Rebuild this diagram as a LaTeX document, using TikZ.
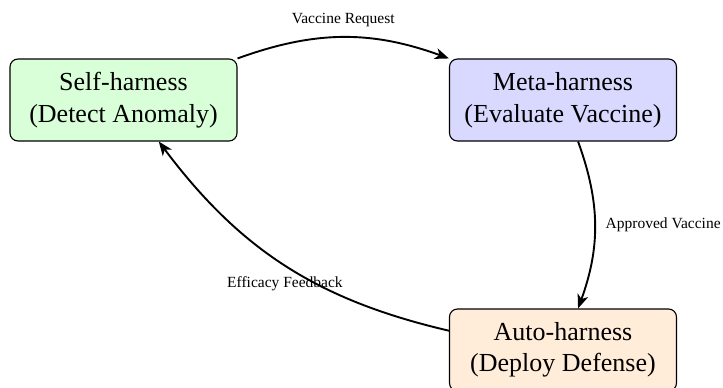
\documentclass[tikz,border=0pt]{standalone}
\usepackage{fontspec}
\setmainfont{Liberation Serif}
\usetikzlibrary{arrows.meta}
\definecolor{selfgreen}{RGB}{217,255,217}
\definecolor{metablue}{RGB}{217,217,255}
\definecolor{autoorange}{RGB}{255,236,217}
\tikzset{
  harness/.style={draw=black, line width=1.1pt, rounded corners=8pt,
    minimum width=227pt, minimum height=82pt, align=center,
    font=\fontsize{26}{31.5}\selectfont},
  flow/.style={line width=1.9pt, -{Stealth[length=14pt,width=11pt,inset=4pt]}},
  flowlabel/.style={font=\fontsize{15.5}{18}\selectfont, inner sep=10pt}
}
\begin{document}
\begin{tikzpicture}[x=1pt,y=-1pt]
\useasboundingbox (0,0) rectangle (723,388);
\node[harness, fill=selfgreen] (self) at (123.5,100) {Self-harness\\(Detect Anomaly)};
\node[harness, fill=metablue] (meta) at (563,100) {Meta-harness\\(Evaluate Vaccine)};
\node[harness, fill=autoorange] (auto) at (563,350) {Auto-harness\\(Deploy Defense)};
\draw[flow] (self.north east) to[bend left=20] node[flowlabel, above] {Vaccine Request} (meta.north west);
\draw[flow] (meta) to[bend left=20] node[flowlabel, right] {Approved Vaccine} (auto);
\draw[flow] (auto) to[bend left=20] node[flowlabel, below] {Efficacy Feedback} (self);
\end{tikzpicture}
\end{document}
